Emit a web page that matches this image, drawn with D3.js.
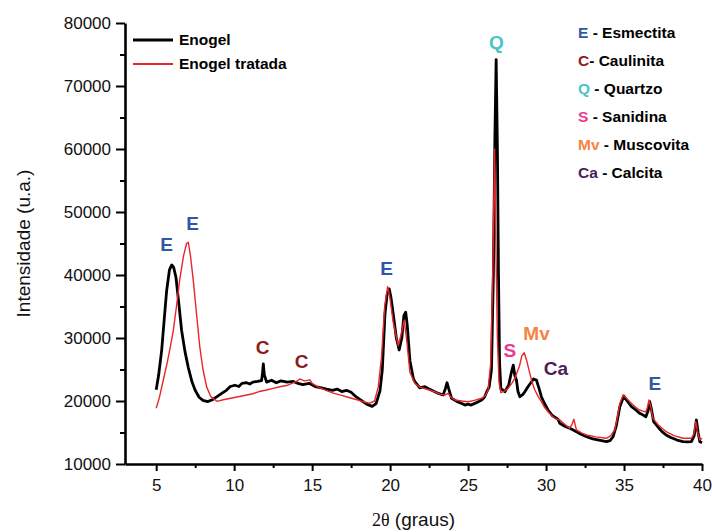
<!DOCTYPE html>
<meta charset="utf-8">
<head>
<script src="https://d3js.org/d3.v7.min.js"></script>
<style>
  body { margin: 0; background: #fff; }
  text { font-family: "Liberation Sans", Arial, sans-serif; }
</style>
</head>
<body>
<div id="my_dataviz"></div>
<script>
  // Enogel (black) : 2theta , intensity
  const theta1 = [5.0,5.15,5.35,5.5,5.67,5.85,6.0,6.12,6.27,6.45,6.63,6.85,7.06,7.3,7.5,7.75,8.0,8.3,8.6,8.9,
    9.2,9.5,9.75,10.05,10.3,10.5,10.8,11.0,11.2,11.5,11.76,11.82,11.87,11.93,12.08,12.4,12.7,13.0,13.4,13.79,
    14.1,14.4,14.8,15.2,15.6,15.93,16.3,16.6,16.9,17.2,17.5,17.85,18.2,18.5,18.85,19.1,19.35,19.5,19.67,19.8,
    19.94,20.05,20.2,20.4,20.58,20.75,20.88,21.0,21.1,21.27,21.5,21.59,21.9,22.23,22.5,22.87,23.1,23.4,23.55,23.65,
    23.75,23.94,24.3,24.6,24.8,25.0,25.2,25.5,25.87,26.05,26.2,26.35,26.5,26.62,26.72,26.8,26.88,26.95,27.02,27.1,
    27.36,27.6,27.8,27.9,28.0,28.1,28.2,28.32,28.5,28.64,28.85,29.07,29.2,29.38,29.55,29.7,29.9,30.13,30.4,30.77,
    30.88,31.2,31.5,31.74,32.1,32.6,33.0,33.4,33.87,34.1,34.3,34.5,34.73,34.99,35.2,35.48,35.75,36.0,36.2,36.4,
    36.55,36.65,36.75,36.9,37.2,37.45,37.7,38.0,38.4,38.78,39.1,39.32,39.5,39.64,39.75,39.86,40.0];
  const enogel = [21800,24000,28000,32500,37500,40800,41600,41200,39600,35500,31200,27800,25300,23000,21700,20600,20100,19900,20200,20700,
    21200,21700,22300,22500,22300,22800,22900,22700,23000,23100,23250,24500,25900,24200,23000,23300,22900,23200,23000,23100,
    22800,22600,22800,22300,22100,21900,21700,21900,21500,21700,21400,20600,20000,19500,19150,19600,21600,25000,33800,36800,
    37800,36500,33800,30000,28100,30000,33500,34100,32000,26400,23500,23060,22100,22270,21900,21470,21200,20950,22000,22900,
    22000,20430,19900,19600,19360,19500,19360,19700,20160,20600,21470,22200,25000,40000,62000,74200,60000,40000,26000,22000,
    21470,22500,24800,25700,24000,23330,21500,20680,21000,21470,22300,23060,23500,23330,22000,20680,19600,18570,17700,17090,
    16460,16000,15700,15400,14900,14330,14000,13800,13540,13700,14330,16000,19090,20790,20000,19090,18600,18040,17800,17500,
    18500,19890,18800,16710,15800,15100,14600,14200,13800,13540,13500,13540,14500,16980,15000,13540,13400];

  // Enogel tratada (red)
  const theta2 = [5.0,5.2,5.45,5.7,5.9,6.1,6.3,6.5,6.75,6.95,7.06,7.2,7.38,7.6,7.8,8.0,8.24,8.5,8.9,9.3,
    9.7,10.1,10.5,11.2,11.6,12.0,12.5,13.0,13.37,13.7,14.0,14.2,14.5,14.86,15.0,15.4,15.93,16.4,16.9,17.3,
    17.64,18.0,18.4,18.7,19.0,19.24,19.45,19.65,19.84,20.0,20.2,20.52,20.7,20.9,21.05,21.27,21.59,21.9,22.3,22.87,
    23.2,23.5,23.72,23.9,24.15,24.6,25.0,25.4,25.87,26.1,26.28,26.45,26.58,26.7,26.78,26.88,26.98,27.1,27.35,27.57,
    27.8,28.0,28.3,28.45,28.6,28.75,28.96,29.1,29.28,29.5,29.7,29.9,30.13,30.35,30.56,30.88,31.2,31.5,31.65,31.78,
    31.95,32.3,32.6,33.2,33.87,34.15,34.4,34.55,34.73,34.94,35.2,35.48,35.75,36.0,36.2,36.4,36.5,36.6,36.72,36.86,
    37.2,37.7,38.2,38.78,39.32,39.48,39.6,39.72,39.86,40.0];
  const tratada = [18850,20500,23250,26000,28500,31200,35000,39100,43000,45000,45200,43000,39100,33500,28500,25000,22200,20700,19950,20200,
    20400,20600,20800,21150,21500,21700,22000,22300,22450,22800,23100,23500,23200,23350,22800,22200,21650,21200,20900,20600,
    20350,20100,19800,19650,20000,22200,27000,35000,38150,36200,32500,28800,30500,32800,30000,24550,22800,22200,21900,21470,
    21100,20950,21220,20600,20160,20000,19890,20100,20430,20800,21750,26000,40000,60000,45000,30000,23000,21320,21600,22010,
    22800,23600,25600,27200,27660,26500,24390,23000,21750,20700,19890,19000,18300,17700,17250,16980,16300,15660,16200,17100,
    15400,14900,14600,14300,14080,14500,15400,17000,19620,20950,20300,19620,19000,18570,18400,18300,19000,20160,19000,17250,
    16200,15130,14500,14080,14080,14800,16710,15000,13810,14080];

  const seriesNames = ["Enogel", "Enogel tratada"];
  const seriesColors = ["#000000", "#e8262b"];

  // minerals (legend on the right)
  const mineralCodes = ["E", "C", "Q", "S", "Mv", "Ca"];
  const mineralNames = [" - Esmectita", "- Caulinita", " - Quartzo", " - Sanidina", " - Muscovita", " - Calcita"];
  const mineralColors = ["#2f57a7", "#8c1c1c", "#4cc3ca", "#ec3a8f", "#f5843f", "#4a1c58"];

  // peak annotations: code, 2theta, intensity
  const annCodes = ["E", "E", "C", "C", "E", "Q", "S", "Mv", "Ca", "E"];
  const annTheta = [5.67, 7.34, 11.83, 14.32, 19.78, 26.82, 27.68, 29.39, 30.63, 36.97];
  const annInt = [44900, 48200, 28600, 26350, 41150, 77000, 28100, 30750, 25200, 22800];

  const margin = {top: 23, right: 10, bottom: 68, left: 125},
      width = 702 - margin.left,
      height = 464 - margin.top;

  const svg = d3.select("#my_dataviz")
    .append("svg")
      .attr("width", 712)
      .attr("height", 532)
    .append("g")
      .attr("transform", `translate(${margin.left},${margin.top})`);

  const x = d3.scaleLinear().domain([3, 40]).range([0, width]);
  const y = d3.scaleLinear().domain([10000, 80000]).range([height, 0]);

  // minor ticks first
  svg.append("g")
    .attr("transform", `translate(0,${height})`)
    .call(d3.axisBottom(x).tickValues(d3.range(7.5, 40, 5)).tickSize(4).tickFormat(""))
    .call(g => g.select(".domain").remove())
    .call(g => g.selectAll("line").attr("stroke-width", 2));
  svg.append("g")
    .call(d3.axisLeft(y).tickValues(d3.range(15000, 80000, 10000)).tickSize(5).tickFormat(""))
    .call(g => g.select(".domain").remove())
    .call(g => g.selectAll("line").attr("stroke-width", 2));

  const xAxis = svg.append("g")
    .attr("transform", `translate(0,${height})`)
    .call(d3.axisBottom(x).tickValues(d3.range(5, 41, 5)).tickSize(7).tickSizeOuter(0).tickPadding(8));
  const yAxis = svg.append("g")
    .call(d3.axisLeft(y).tickValues(d3.range(10000, 80001, 10000)).tickFormat(d3.format("d"))
      .tickSize(9).tickSizeOuter(0).tickPadding(5));

  [xAxis, yAxis].forEach(a => {
    a.select(".domain").attr("stroke-width", 2.6);
    a.selectAll("line").attr("stroke-width", 2);
    a.selectAll("text").attr("font-size", 17).attr("font-family", "Liberation Sans, Arial, sans-serif").attr("fill", "#111");
  });

  // curves
  const line = d3.line().x(d => x(d[0])).y(d => y(d[1]));
  const data1 = theta1.map((t, i) => [t, enogel[i]]);
  const data2 = theta2.map((t, i) => [t, tratada[i]]);

  svg.append("path").datum(data1)
    .attr("fill", "none").attr("stroke", seriesColors[0]).attr("stroke-width", 2.8)
    .attr("stroke-linejoin", "round").attr("d", line);
  svg.append("path").datum(data2)
    .attr("fill", "none").attr("stroke", seriesColors[1]).attr("stroke-width", 1.4)
    .attr("stroke-linejoin", "round").attr("d", line);

  // peak labels
  svg.selectAll(".ann")
    .data(annCodes)
    .join("text")
      .attr("class", "ann")
      .attr("x", (d, i) => x(annTheta[i]))
      .attr("y", (d, i) => y(annInt[i]))
      .attr("dy", "0.36em")
      .attr("text-anchor", "middle")
      .attr("font-size", 19)
      .attr("font-weight", "bold")
      .attr("fill", d => mineralColors[mineralCodes.indexOf(d)])
      .text(d => d);

  // series legend
  const leg = svg.append("g").attr("transform", "translate(8,17)");
  seriesNames.forEach((n, i) => {
    leg.append("line").attr("x1", 0).attr("x2", 40).attr("y1", i * 24).attr("y2", i * 24)
      .attr("stroke", seriesColors[i]).attr("stroke-width", i === 0 ? 3 : 2);
    leg.append("text").attr("x", 46).attr("y", i * 24 + 5)
      .attr("font-size", 15.5).attr("font-weight", "bold").text(n);
  });

  // mineral legend
  const leg2 = svg.append("g").attr("transform", "translate(453,15)");
  mineralCodes.forEach((c, i) => {
    const t = leg2.append("text").attr("x", 0).attr("y", i * 28)
      .attr("font-size", 15.5).attr("font-weight", "bold");
    t.append("tspan").attr("fill", mineralColors[i]).text(c);
    t.append("tspan").attr("fill", "#000").text(mineralNames[i]);
  });

  // axis titles
  svg.append("text")
    .attr("transform", `translate(-95,${height / 2}) rotate(-90)`)
    .attr("text-anchor", "middle")
    .attr("font-size", 19)
    .attr("fill", "#111")
    .text("Intensidade (u.a.)");

  const xt = svg.append("text")
    .attr("x", width / 2).attr("y", height + 62)
    .attr("text-anchor", "middle")
    .attr("font-size", 19)
    .attr("fill", "#111");
  xt.append("tspan").attr("font-family", "Liberation Serif, serif").attr("font-size", 18).text("2θ");
  xt.append("tspan").text(" (graus)");
</script>
</body>
